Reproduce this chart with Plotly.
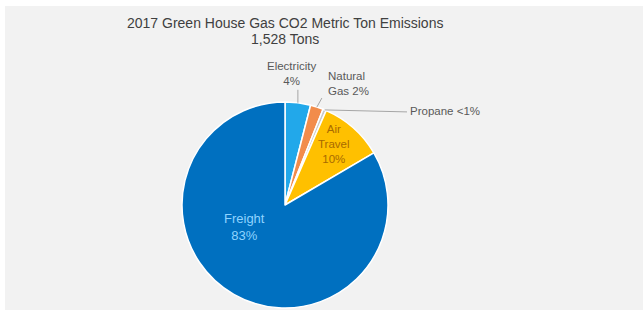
import math
import plotly.graph_objects as go

# ---- data ----
categories = ["Electricity", "Natural Gas", "Propane", "Air Travel", "Freight"]
tons = [61, 31, 8, 153, 1275]
pct_labels = ["4%", "2%", "<1%", "10%", "83%"]
label_text = ["Electricity<br>4%", "Natural<br>Gas 2%", "Propane <1%", "Air<br>Travel<br>10%", "Freight<br>83%"]
colors = ["#22A8EA", "#F28C4B", "#C9C9C9", "#FFC000", "#0070C0"]
title_lines = ["2017 Green House Gas CO2 Metric Ton Emissions", "1,528 Tons"]

W, H = 643, 310
CX, CY, R = 285, 205, 103  # pie centre / radius in px


def px(x):
    return x / W


def py(y):
    return 1 - y / H


fig = go.Figure()
fig.add_trace(go.Pie(
    labels=categories,
    values=tons,
    sort=False,
    direction="clockwise",
    rotation=0,
    textinfo="none",
    hoverinfo="label+value+percent",
    marker=dict(colors=colors, line=dict(color="white", width=1.5)),
    domain=dict(x=[px(CX - R), px(CX + R)], y=[py(CY + R), py(CY - R)]),
    showlegend=False,
))

# slice mid-angles (clockwise from 12 o'clock)
total = sum(tons)
mids = []
acc = 0
for v in tons:
    mids.append((acc + v / 2) / total * 2 * math.pi)
    acc += v


def edge(i, r=R):
    a = mids[i]
    return CX + r * math.sin(a), CY - r * math.cos(a)


shapes = [dict(type="rect", xref="paper", yref="paper", x0=px(5), x1=1, y0=0, y1=py(6),
               fillcolor="#F2F2F2", line=dict(width=0), layer="below")]
annotations = []
FONT = "Arial, Liberation Sans, sans-serif"
font_lbl = dict(family=FONT, size=11.5, color="#595959")

# title (two lines)
annotations.append(dict(x=px(285), y=py(23), xref="paper", yref="paper", text=title_lines[0],
                        showarrow=False, xanchor="center", yanchor="middle",
                        font=dict(family=FONT, size=14, color="#404040")))
annotations.append(dict(x=px(285), y=py(39), xref="paper", yref="paper", text=title_lines[1],
                        showarrow=False, xanchor="center", yanchor="middle",
                        font=dict(family=FONT, size=14, color="#404040")))

# Electricity: vertical leader
ex, ey = edge(0)
shapes.append(dict(type="line", xref="paper", yref="paper", x0=px(ex), y0=py(ey), x1=px(ex), y1=py(ey - 13),
                   line=dict(color="#A6A6A6", width=1)))
annotations.append(dict(x=px(ex - 6), y=py(ey - 14), xref="paper", yref="paper", text=label_text[0],
                        showarrow=False, xanchor="center", yanchor="bottom", font=font_lbl, align="center"))
# Natural Gas
nx, ny = edge(1)
shapes.append(dict(type="line", xref="paper", yref="paper", x0=px(nx), y0=py(ny), x1=px(nx + 5), y1=py(ny - 9),
                   line=dict(color="#A6A6A6", width=1)))
annotations.append(dict(x=px(nx + 9), y=py(ny - 8), xref="paper", yref="paper", text=label_text[1],
                        showarrow=False, xanchor="left", yanchor="bottom", font=font_lbl, align="left"))
# Propane
qx, qy = edge(2)
shapes.append(dict(type="line", xref="paper", yref="paper", x0=px(qx), y0=py(qy), x1=px(407), y1=py(qy + 2),
                   line=dict(color="#A6A6A6", width=1)))
annotations.append(dict(x=px(408), y=py(qy + 1), xref="paper", yref="paper", text=label_text[2],
                        showarrow=False, xanchor="left", yanchor="middle", font=font_lbl, align="left"))
# Air Travel (inside)
ax_, ay_ = edge(3, 0.75 * R)
annotations.append(dict(x=px(ax_ - 2), y=py(ay_ - 3), xref="paper", yref="paper", text=label_text[3],
                        showarrow=False, xanchor="center", yanchor="middle", align="center",
                        font=dict(family=FONT, size=11.5, color="#A86A00")))
# Freight (inside)
annotations.append(dict(x=px(245), y=py(227), xref="paper", yref="paper", text=label_text[4],
                        showarrow=False, xanchor="center", yanchor="middle", align="center",
                        font=dict(family=FONT, size=13, color="#8FD4FF")))

fig.update_layout(
    width=W, height=H,
    margin=dict(l=0, r=0, t=0, b=0),
    paper_bgcolor="white",
    plot_bgcolor="white",
    shapes=shapes,
    annotations=annotations,
)

fig.write_html("out.html", config={"displayModeBar": False},
               post_script="document.body.style.margin='0';")
